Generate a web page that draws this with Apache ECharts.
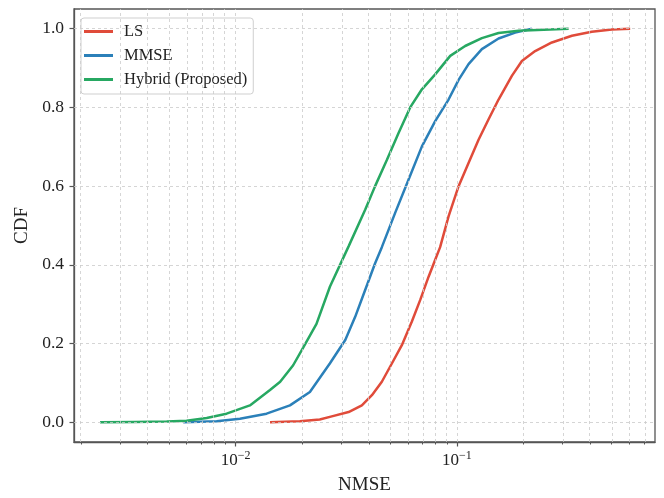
<!DOCTYPE html>
<html>
<head>
<meta charset="utf-8">
<script src="https://cdn.jsdelivr.net/npm/echarts@6/dist/echarts.min.js"></script>
<style>
  html, body { margin: 0; padding: 0; background: #fff; }
  #chart { width: 664px; height: 498px; }
</style>
</head>
<body>
<div id="chart"></div>
<script>
const lsNmse = [0.0143, 0.0195, 0.0240, 0.0272, 0.0324, 0.0372, 0.0413, 0.0458, 0.0509, 0.0564, 0.0626, 0.0683, 0.0745, 0.0798, 0.0840, 0.0917, 0.1018, 0.1129, 0.1253, 0.1391, 0.1543, 0.1772, 0.1967, 0.2258, 0.2688, 0.331, 0.407, 0.502, 0.607]
const lsCdf = [0, 0.003, 0.007, 0.015, 0.026, 0.043, 0.069, 0.103, 0.15, 0.196, 0.256, 0.311, 0.37, 0.413, 0.445, 0.523, 0.6, 0.659, 0.718, 0.77, 0.82, 0.88, 0.918, 0.943, 0.965, 0.982, 0.992, 0.998, 1.0]

const mmseNmse = [0.0058, 0.0082, 0.01046, 0.0138, 0.0176, 0.02166, 0.0267, 0.0313, 0.0347, 0.0385, 0.0427, 0.0458, 0.0526, 0.0605, 0.0695, 0.0798, 0.0917, 0.1018, 0.1129, 0.1297, 0.1543, 0.1834, 0.2182]
const mmseCdf = [0, 0.003, 0.009, 0.022, 0.043, 0.077, 0.15, 0.209, 0.268, 0.336, 0.404, 0.445, 0.532, 0.617, 0.701, 0.765, 0.82, 0.87, 0.91, 0.948, 0.975, 0.99, 1.0]

const hybridNmse = [0.00244, 0.0035, 0.00488, 0.0060, 0.0074, 0.0091, 0.0116, 0.0143, 0.0159, 0.0182, 0.0202, 0.0232, 0.0267, 0.0324, 0.0385, 0.0427, 0.0483, 0.0545, 0.0615, 0.0695, 0.0798, 0.0933, 0.109, 0.1297, 0.1543, 0.190, 0.320]
const hybridCdf = [0, 0.001, 0.002, 0.004, 0.011, 0.022, 0.043, 0.082, 0.103, 0.145, 0.19, 0.25, 0.345, 0.447, 0.54, 0.6, 0.667, 0.735, 0.8, 0.846, 0.884, 0.931, 0.956, 0.976, 0.989, 0.995, 1.0]

const xMajorTicks = [0.01, 0.1]
const yTicks = [0, 0.2, 0.4, 0.6, 0.8, 1.0]

const xMin = Math.log10(0.00186)
const xMax = Math.log10(0.786)

// major + minor decade ticks (2..9 x 10^k) in log10 space
const xAllTicks = []
for (let k = -3; k <= -1; k++) {
  for (let m = 1; m <= 9; m++) {
    const v = Math.log10(m) + k
    if (v >= xMin && v <= xMax) xAllTicks.push(v)
  }
}
const xMajorLog = xMajorTicks.map(v => Math.round(Math.log10(v)))

const toPoints = (xs, ys) => xs.map((x, i) => [Math.log10(x), ys[i]])

const font = 'Liberation Serif, DejaVu Serif, serif'
const axisColor = '#555'
const gridColor = '#cbcbcb'
const gridLine = { color: gridColor, type: [3, 3], width: 0.8 }

const chart = echarts.init(document.getElementById('chart'), null, { renderer: 'canvas' })

const lineSeries = (name, xs, ys, color) => ({
  name,
  type: 'line',
  data: toPoints(xs, ys),
  symbol: 'none',
  color,
  lineStyle: { width: 2.5 },
  z: 3
})

chart.setOption({
  animation: false,
  grid: {
    left: 74, right: 9, top: 9, bottom: 56,
    show: true,
    borderColor: axisColor,
    borderWidth: 1.3,
    outerBoundsMode: 'none'
  },
  legend: {
    orient: 'vertical',
    left: 81,
    top: 18,
    padding: [5, 6, 6, 3],
    icon: 'rect',
    itemWidth: 29,
    itemHeight: 3,
    itemGap: 7,
    backgroundColor: 'rgba(255,255,255,0.85)',
    borderColor: '#cfcfcf',
    borderWidth: 1,
    borderRadius: 3,
    textStyle: { fontFamily: font, fontSize: 16.5, color: '#222', lineHeight: 16, padding: [0, 0, 0, 6] },
    data: ['LS', 'MMSE', 'Hybrid (Proposed)']
  },
  xAxis: [
    {
      type: 'value',
      min: xMin,
      max: xMax,
      axisLine: { show: true, onZero: false, lineStyle: { color: axisColor, width: 1.3 } },
      axisTick: { show: true, length: 2.5, customValues: xAllTicks, lineStyle: { color: axisColor, width: 1 } },
      axisLabel: { show: false },
      splitLine: { show: false },
      name: 'NMSE',
      nameLocation: 'middle',
      nameGap: 34,
      nameTextStyle: { fontFamily: font, fontSize: 19, color: '#222' }
    },
    {
      type: 'value',
      position: 'bottom',
      min: xMin,
      max: xMax,
      axisLine: { show: false, onZero: false },
      axisTick: { show: true, length: 4.5, customValues: xMajorLog, lineStyle: { color: axisColor, width: 1.2 } },
      axisLabel: {
        show: true,
        customValues: xMajorLog,
        margin: 8,
        formatter: v => '{b|10}{s|\u2212' + Math.round(-v) + '}',
        rich: {
          b: { fontFamily: font, fontSize: 17, color: '#222', lineHeight: 22 },
          s: { fontFamily: font, fontSize: 12, color: '#222', verticalAlign: 'top', lineHeight: 12 }
        }
      },
      splitLine: { show: false }
    }
  ],
  yAxis: {
    type: 'value',
    min: -0.05,
    max: 1.05,
    axisLine: { show: true, onZero: false, lineStyle: { color: axisColor, width: 1.3 } },
    axisTick: { show: true, length: 4.5, customValues: yTicks, lineStyle: { color: axisColor, width: 1.2 } },
    axisLabel: {
      customValues: yTicks,
      margin: 10,
      formatter: v => v.toFixed(1),
      fontFamily: font,
      fontSize: 17.5,
      color: '#222'
    },
    splitLine: { show: false },
    name: 'CDF',
    nameLocation: 'middle',
    nameGap: 42,
    nameMoveOverlap: false,
    nameTextStyle: { fontFamily: font, fontSize: 19, color: '#222' }
  },
  series: [
    {
      // dashed grid at every major and minor tick
      type: 'line',
      data: [],
      silent: true,
      z: 1,
      markLine: {
        silent: true,
        symbol: 'none',
        label: { show: false },
        lineStyle: gridLine,
        emphasis: { disabled: true },
        data: xAllTicks.map(v => ({ xAxis: v })).concat(yTicks.map(v => ({ yAxis: v })))
      }
    },
    lineSeries('LS', lsNmse, lsCdf, '#e04b3a'),
    lineSeries('MMSE', mmseNmse, mmseCdf, '#2b80b9'),
    lineSeries('Hybrid (Proposed)', hybridNmse, hybridCdf, '#27a862')
  ]
})
</script>
</body>
</html>
